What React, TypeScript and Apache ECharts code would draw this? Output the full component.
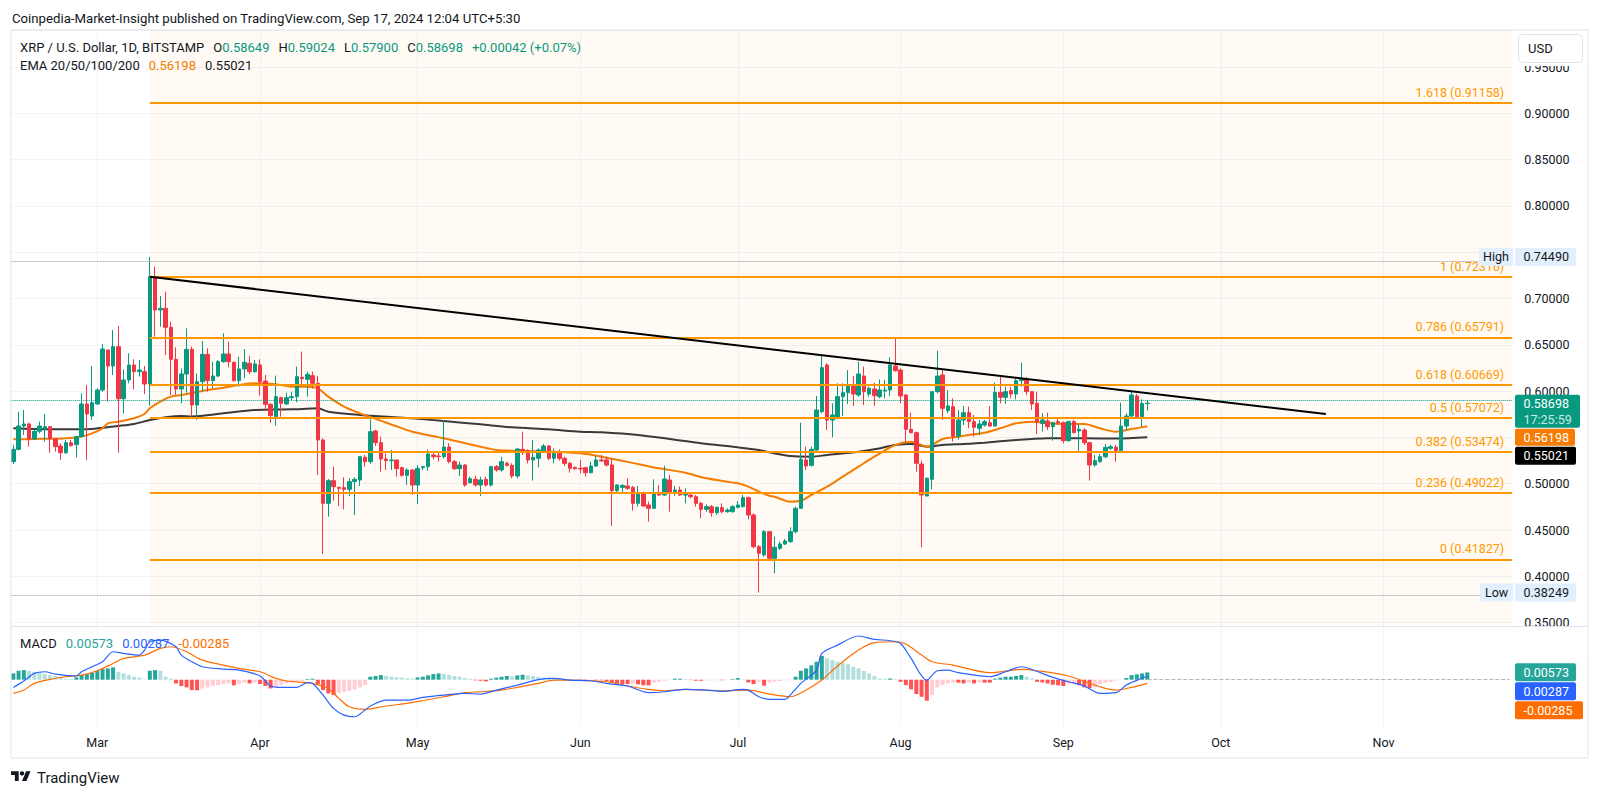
import React, { useEffect, useRef } from "react";
import * as echarts from "echarts";

const FONT = "Roboto, 'Noto Sans', sans-serif";
const TEXT = "#131722";
const GRID = "#f0f3fa";
const UP = "#089981";
const DOWN = "#f23645";
const FIB = "#ff9800";
const EMA_FAST = "#f57c00";
const EMA_SLOW = "#3a3a3a";

// day offsets relative to 2024-03-01
const START_DAY = -16;
const LAST_AXIS_DAY = 269;
const MONTHS = ["Jan", "Feb", "Mar", "Apr", "May", "Jun", "Jul", "Aug", "Sep", "Oct", "Nov", "Dec"];

const opens = [
  .5238,.5371,.5623,.5645,.5483,.5566,.5590,.5616,.5483,.5407,
  .5335,.5443,.5422,.5508,.5861,.5731,.5861,.6012,.6444,.6271,
  .6480,.5918,.6120,.6282,.6210,.6210,.6077,.7236,.6876,.6894,
  .6689,.6343,.6023,.6185,.6451,.5850,.6102,.6397,.6113,.6163,
  .6318,.6401,.6311,.6113,.6239,.6300,.6210,.6282,.6109,.5857,
  .5724,.5929,.5861,.5929,.5940,.6149,.6127,.6167,.6084,.5472,
  .4788,.5033,.4961,.4957,.4939,.5022,.5040,.5285,.5238,.5569,
  .5443,.5267,.5249,.5256,.5173,.5090,.5148,.4986,.5173,.5184,
  .5310,.5299,.5292,.5396,.5238,.5162,.5202,.5011,.5047,.4986,
  .5047,.4986,.5184,.5148,.5220,.5198,.5083,.5371,.5357,.5256,
  .5274,.5357,.5407,.5274,.5328,.5274,.5220,.5177,.5166,.5173,
  .5119,.5191,.5256,.5256,.5202,.4925,.4960,.4975,.4961,.4788,
  .4896,.4770,.4734,.4896,.4878,.5040,.4914,.4932,.4878,.4878,
  .4860,.4788,.4723,.4752,.4687,.4741,.4698,.4698,.4745,.4752,
  .4849,.4662,.4320,.4230,.4482,.4194,.4302,.4349,.4374,.4482,
  .4734,.5256,.5198,.5364,.5778,.6282,.5688,.5724,.5940,.5983,
  .6066,.5958,.6163,.5969,.6023,.5940,.6001,.6012,.6271,.6228,
  .5958,.5587,.5551,.5213,.4867,.5047,.5994,.6174,.5789,.5832,
  .5515,.5688,.5767,.5670,.5598,.5634,.5659,.5623,.5987,.5933,
  .6005,.5969,.6113,.6127,.5994,.5868,.5652,.5677,.5616,.5670,
  .5659,.5465,.5670,.5569,.5580,.5443,.5202,.5238,.5292,.5382,
  .5393,.5357,.5623,.5731,.5947,.5724,.58649,
];
const highs = [
  .5418,.5778,.5796,.5659,.5598,.5670,.5753,.5623,.5490,.5436,
  .5472,.5472,.5515,.5976,.6066,.6271,.6030,.6509,.6444,.6660,
  .6703,.6235,.6408,.6343,.6336,.6271,.7449,.7344,.7027,.7074,
  .6750,.6473,.6246,.6678,.6480,.6192,.6541,.6462,.6318,.6336,
  .6624,.6534,.6318,.6372,.6455,.6379,.6336,.6343,.6174,.5868,
  .6167,.5940,.5983,.5994,.6264,.6426,.6210,.6210,.6163,.5490,
  .5051,.5184,.4968,.5069,.5058,.5069,.5299,.5310,.5695,.5580,
  .5508,.5328,.5364,.5256,.5184,.5166,.5155,.5202,.5191,.5371,
  .5328,.5342,.5688,.5436,.5256,.5238,.5213,.5076,.5087,.5076,
  .5076,.5195,.5202,.5292,.5238,.5220,.5382,.5562,.5371,.5472,
  .5382,.5429,.5418,.5382,.5371,.5292,.5238,.5184,.5256,.5184,
  .5238,.5299,.5310,.5292,.5274,.4993,.4993,.5058,.4975,.4975,
  .4914,.4806,.5047,.4986,.5195,.5094,.4975,.4968,.4950,.4903,
  .4878,.4806,.4777,.4770,.4752,.4788,.4734,.4770,.4813,.4878,
  .4860,.4680,.4338,.4500,.4482,.4428,.4374,.4403,.4529,.4752,
  .5659,.5400,.5400,.5947,.6379,.6300,.5868,.6084,.6084,.6228,
  .6163,.6318,.6264,.6048,.6091,.6127,.6120,.6365,.6581,.6246,
  .5969,.5767,.5562,.5249,.5069,.5994,.6437,.6228,.6012,.5922,
  .5796,.5839,.5832,.5742,.5688,.5688,.5839,.6091,.6156,.6048,
  .6048,.6138,.6307,.6149,.5994,.5994,.5760,.5767,.5670,.5717,
  .5670,.5681,.5688,.5645,.5598,.5454,.5310,.5321,.5429,.5418,
  .5418,.5875,.5760,.5994,.5969,.5911,.59024,
];
const lows = [
  .5213,.5360,.5526,.5400,.5475,.5544,.5454,.5335,.5346,.5256,
  .5321,.5400,.5285,.5501,.5256,.5688,.5850,.5994,.5886,.6174,
  .5335,.5760,.6084,.6019,.6156,.5969,.5843,.6588,.6696,.6390,
  .5958,.5958,.5868,.5983,.5724,.5688,.5994,.5994,.6030,.6149,
  .6307,.6257,.6102,.6048,.6138,.6185,.6199,.5951,.5796,.5659,
  .5627,.5724,.5850,.5904,.5879,.6048,.5940,.6030,.5094,.4241,
  .4644,.4817,.4759,.4723,.4867,.4662,.4975,.5184,.5213,.5407,
  .5130,.5148,.5148,.5076,.5076,.4986,.4878,.4781,.5148,.5141,
  .5263,.5238,.5274,.5220,.5148,.5083,.4968,.5004,.4968,.4867,
  .4968,.4968,.5130,.5130,.5184,.5058,.5058,.5310,.5220,.5033,
  .5177,.5346,.5256,.5220,.5249,.5191,.5119,.5148,.5112,.5076,
  .5112,.5184,.5238,.5184,.4543,.4907,.4907,.4932,.4709,.4752,
  .4752,.4590,.4734,.4867,.4867,.4698,.4867,.4867,.4788,.4842,
  .4752,.4626,.4698,.4644,.4662,.4680,.4687,.4687,.4734,.4745,
  .4615,.4302,.3825,.4212,.4183,.4032,.4284,.4338,.4363,.4464,
  .4734,.5148,.5184,.5357,.5760,.5580,.5501,.5706,.5731,.5861,
  .5839,.5940,.5850,.5940,.5839,.5922,.5922,.5947,.6210,.5868,
  .5443,.5544,.5130,.4313,.4867,.4939,.5976,.5688,.5760,.5454,
  .5479,.5634,.5598,.5508,.5526,.5616,.5616,.5616,.5868,.5861,
  .5922,.5911,.6048,.5958,.5796,.5537,.5562,.5580,.5465,.5634,
  .5436,.5454,.5544,.5346,.5418,.5033,.5184,.5227,.5274,.5364,
  .5238,.5357,.5580,.5724,.5706,.5616,.57900,
];
const closes = [
  .5371,.5623,.5645,.5483,.5566,.5623,.5616,.5490,.5400,.5335,
  .5443,.5411,.5508,.5861,.5753,.5875,.6012,.6455,.6271,.6480,
  .5918,.6120,.6282,.6210,.6228,.6077,.7236,.6876,.6894,.6689,
  .6343,.6023,.6185,.6451,.5850,.6102,.6397,.6113,.6163,.6318,
  .6401,.6318,.6113,.6239,.6311,.6210,.6293,.6102,.5857,.5735,
  .5940,.5868,.5929,.5940,.6156,.6134,.6181,.6084,.5472,.4788,
  .5033,.4968,.4950,.4939,.5022,.5047,.5292,.5238,.5562,.5443,
  .5267,.5249,.5256,.5163,.5090,.5148,.4986,.5166,.5184,.5321,
  .5292,.5292,.5396,.5238,.5162,.5202,.4986,.5054,.4986,.5040,
  .4986,.5184,.5148,.5238,.5198,.5083,.5375,.5357,.5256,.5285,
  .5364,.5407,.5274,.5328,.5274,.5220,.5166,.5162,.5159,.5119,
  .5191,.5256,.5245,.5202,.4925,.4986,.4982,.4950,.4788,.4896,
  .4759,.4734,.4896,.4878,.5051,.4896,.4932,.4878,.4889,.4860,
  .4788,.4723,.4752,.4687,.4745,.4698,.4716,.4752,.4770,.4849,
  .4662,.4320,.4248,.4482,.4194,.4313,.4349,.4381,.4482,.4734,
  .5263,.5191,.5371,.5796,.6253,.5688,.5742,.5940,.5983,.6066,
  .5969,.6185,.5994,.6030,.5951,.6012,.6012,.6282,.6221,.5947,
  .5587,.5551,.5220,.4878,.5058,.5994,.6163,.5814,.5839,.5515,
  .5688,.5767,.5670,.5609,.5645,.5670,.5623,.5987,.5933,.5994,
  .5969,.6113,.6138,.5994,.5861,.5670,.5688,.5616,.5659,.5659,
  .5465,.5670,.5551,.5587,.5443,.5202,.5249,.5292,.5393,.5400,
  .5357,.5623,.5731,.5958,.5724,.58656,.58698,
];

const ema50Days = [-16,-12,-6,-3,-1,1,2,4,7,9,10,12,14,16,18,21,24,27,30,34,37,40,42,44,47,50,53,56,60,66,73,76,79,86,92,96,103,107,112,116,122,124,126,128,129,132,134,136,139,142,145,148,152,155,158,161,164,166,169,172,175,178,181,185,188,191,194,197,200];
const ema50Vals = [.5479,.5483,.5490,.5510,.5544,.5598,.5652,.5670,.5706,.5753,.5814,.5886,.5940,.5958,.5980,.6012,.6037,.6066,.6084,.6075,.6048,.6048,.6030,.5940,.5832,.5760,.5700,.5640,.5562,.5490,.5400,.5364,.5357,.5346,.5328,.5292,.5213,.5166,.5119,.5058,.5004,.4968,.4914,.4870,.4860,.4806,.4815,.4878,.4968,.5076,.5184,.5292,.5418,.5454,.5400,.5483,.5508,.5526,.5551,.5598,.5652,.5670,.5652,.5645,.5645,.5598,.5562,.5590,.56198];
const ema200Days = [-16,-9,-3,0,4,7,10,13,16,18,24,30,37,42,44,50,56,60,66,73,79,86,92,96,103,109,115,122,126,128,132,136,139,145,148,152,155,158,161,165,169,175,178,181,188,194,200];
const ema200Vals = [.5598,.5587,.5587,.5598,.5623,.5645,.5688,.5717,.5731,.5727,.5760,.5796,.5803,.5814,.5778,.5742,.5720,.5706,.5677,.5641,.5609,.5587,.5562,.5555,.5526,.5483,.5436,.5393,.5364,.5339,.5299,.5292,.5310,.5346,.5371,.5418,.5429,.5400,.5418,.5429,.5443,.5472,.5483,.5490,.5490,.5487,.55021];

const macdHist = [
  .0049,.0070,.0075,.0068,.0062,.0055,.0044,.0036,.0029,.0016,
  .0008,.0006,.0018,.0036,.0044,.0055,.0070,.0083,.0088,.0096,
  .0062,.0049,.0036,.0023,.0016,.0003,.0070,.0075,.0070,.0023,
  .0010,-.0029,-.0049,-.0060,-.0081,-.0083,-.0068,-.0060,-.0049,-.0042,
  -.0034,-.0029,-.0044,-.0034,-.0023,-.0029,-.0023,-.0034,-.0049,-.0068,
  -.0060,-.0042,-.0029,-.0023,-.0016,-.0010,.0005,.0008,-.0034,-.0081,
  -.0107,-.0120,-.0101,-.0094,-.0086,-.0075,-.0060,-.0042,.0023,.0029,
  .0036,.0029,.0023,.0018,.0016,.0010,.0008,.0018,.0023,.0034,
  .0044,.0049,.0044,.0036,.0029,.0023,.0013,.0008,-.0005,-.0008,
  -.0013,.0008,.0016,.0023,.0029,.0026,.0034,.0039,.0034,.0029,
  .0023,.0018,.0016,.0010,.0008,.0005,.0003,.0002,-.0002,-.0003,
  -.0002,-.0003,-.0004,-.0010,-.0023,-.0029,-.0034,-.0034,-.0029,-.0036,
  -.0044,-.0044,-.0023,-.0016,-.0008,-.0003,.0008,.0008,.0005,-.0003,
  -.0008,-.0008,-.0006,-.0005,-.0004,-.0004,-.0003,.0005,.0013,.0003,
  -.0021,-.0034,-.0016,-.0047,-.0021,-.0016,-.0010,-.0005,-.0003,.0023,
  .0070,.0088,.0112,.0140,.0185,.0166,.0153,.0140,.0133,.0122,
  .0101,.0088,.0068,.0049,.0029,.0010,.0008,.0009,.0005,-.0016,
  -.0042,-.0075,-.0112,-.0133,-.0164,-.0120,-.0060,-.0042,-.0029,-.0023,
  -.0023,-.0029,-.0023,-.0029,-.0023,-.0023,-.0023,.0008,.0016,.0023,
  .0023,.0029,.0036,.0023,.0010,-.0016,-.0021,-.0029,-.0039,-.0044,
  -.0049,-.0034,-.0029,-.0042,-.0060,-.0065,-.0060,-.0034,-.0023,-.0018,
  -.0008,-.0003,.0013,.0036,.0042,.0049,.00573,
];
const macdDays = [-16,-14,-12,-10,-8,-4,-3,-1,1,3,5,8,9,10,12,15,16,18,20,24,27,31,33,35,38,40,41,43,45,47,49,51,52,55,59,62,66,70,73,76,80,84,87,90,94,97,101,105,108,112,116,119,123,124,126,128,131,132,134,137,138,141,145,148,151,153,155,158,160,162,164,170,173,176,178,182,185,188,191,194,196,198,200];
const macdVals = [-.0060,-.0010,.0049,.0062,.0044,.0029,.0062,.0101,.0140,.0218,.0205,.0192,.0231,.0296,.0309,.0257,.0192,.0140,.0101,.0083,.0075,.0029,-.0049,-.0060,-.0060,-.0023,-.0029,-.0120,-.0224,-.0276,-.0289,-.0237,-.0205,-.0159,-.0159,-.0138,-.0120,-.0107,-.0112,-.0081,-.0042,.0000,.0010,-.0003,-.0008,-.0029,-.0049,-.0101,-.0094,-.0075,-.0081,-.0091,-.0075,-.0081,-.0133,-.0153,-.0153,-.0120,-.0029,.0075,.0205,.0270,.0341,.0315,.0304,.0283,.0166,-.0003,.0070,.0075,.0055,.0023,.0062,.0101,.0080,.0018,-.0016,-.0049,-.0107,-.0101,-.0042,-.0005,.00287];
const signalDays = [-16,-14,-12,-9,-6,-3,0,3,5,9,12,14,17,20,24,27,31,34,36,40,41,44,46,48,51,55,59,62,66,70,73,77,80,84,87,90,97,101,105,108,112,119,124,128,132,135,138,141,145,148,152,154,157,159,163,170,176,179,185,191,194,197,200];
const signalVals = [-.0107,-.0080,-.0029,.0003,.0023,.0036,.0070,.0127,.0166,.0192,.0244,.0257,.0218,.0153,.0114,.0088,.0062,.0010,-.0010,-.0023,-.0029,-.0068,-.0146,-.0211,-.0231,-.0205,-.0185,-.0164,-.0133,-.0101,-.0094,-.0081,-.0060,-.0029,-.0003,-.0003,-.0016,-.0049,-.0075,-.0086,-.0075,-.0086,-.0081,-.0112,-.0133,-.0081,-.0003,.0107,.0231,.0289,.0296,.0278,.0192,.0140,.0114,.0055,.0080,.0070,.0029,-.0055,-.0081,-.0060,-.00285];

const fibLevels = ["0", "0.236", "0.382", "0.5", "0.618", "0.786", "1", "1.618"];
const fibPrices = [0.41827, 0.49022, 0.53474, 0.57072, 0.60669, 0.65791, 0.72316, 0.91158];
const FIB_START_DAY = 10;
const trendDays = [10, 234];
const trendPrices = [0.7235, 0.5753];
const HIGH_PRICE = 0.7449;
const LOW_PRICE = 0.38249;

function dayLabel(d: number) {
  const dt = new Date(2024, 2, 1 + d);
  return `${dt.getFullYear()}-${String(dt.getMonth() + 1).padStart(2, "0")}-${String(dt.getDate()).padStart(2, "0")}`;
}
const categories = Array.from({ length: LAST_AXIS_DAY - START_DAY + 1 }, (_, i) => dayLabel(START_DAY + i));
const isMonthStart = (_i: number, v: string) => typeof v === "string" && v.endsWith("-01");
const monthName = (v: string) => MONTHS[parseInt(v.slice(5, 7), 10) - 1];

const histColors = macdHist.map((v, i) => {
  const p = i > 0 ? macdHist[i - 1] : v;
  if (v >= 0) return v >= p ? "#26a69a" : "#b2dfdb";
  return v <= p ? "#ff5252" : "#ffcdd2";
});

export default function App() {
  const ref = useRef<HTMLDivElement>(null);
  useEffect(() => {
    if (!ref.current) return;
    const chart = echarts.init(ref.current, null, { renderer: "svg" });
    const n = closes.length;
    const lastClose = closes[n - 1];
    const axisMaxDay = LAST_AXIS_DAY + 0.5;
    const option: any = {
      animation: false,
      backgroundColor: "#ffffff",
      textStyle: { fontFamily: FONT },
      grid: [
        { left: 10.7, top: 30, width: 1501.5, height: 596 },
        { left: 10.7, top: 626, width: 1501.5, height: 101 },
      ],
      xAxis: [
        {
          type: "category", gridIndex: 0, data: categories, boundaryGap: true,
          axisLine: { show: false }, axisTick: { show: false }, axisLabel: { show: false },
          splitLine: { show: true, interval: isMonthStart, alignWithLabel: true, lineStyle: { color: GRID, width: 1 } },
        },
        { type: "value", gridIndex: 0, min: START_DAY - 0.5, max: axisMaxDay, show: false },
        {
          type: "category", gridIndex: 1, data: categories, boundaryGap: true,
          axisLine: { show: false }, axisTick: { show: false },
          axisLabel: { show: true, interval: isMonthStart, formatter: monthName, color: TEXT, fontSize: 12.5, margin: 9, fontFamily: FONT },
          splitLine: { show: true, interval: isMonthStart, alignWithLabel: true, lineStyle: { color: GRID, width: 1 } },
        },
        { type: "value", gridIndex: 1, min: START_DAY - 0.5, max: axisMaxDay, show: false },
      ],
      yAxis: [
        {
          type: "value", gridIndex: 0, position: "right", min: 0.34633, max: 0.98996,
          splitNumber: 13, minInterval: 0.05, maxInterval: 0.05,
          axisLine: { show: false }, axisTick: { show: false },
          axisLabel: { formatter: (v: number) => v.toFixed(5), color: TEXT, fontSize: 12.5, margin: 12, showMinLabel: false, showMaxLabel: false, fontFamily: FONT },
          splitLine: { show: true, lineStyle: { color: GRID, width: 1 } },
        },
        {
          type: "value", gridIndex: 1, position: "right", min: -0.0369, max: 0.0419,
          axisLine: { show: false }, axisTick: { show: false }, axisLabel: { show: false }, splitLine: { show: false },
        },
      ],
      series: [
        {
          type: "line", name: "fib", xAxisIndex: 1, yAxisIndex: 0, silent: true, z: 1,
          data: [[FIB_START_DAY, fibPrices[0]]], symbol: "none", lineStyle: { opacity: 0 },
          markArea: {
            silent: true, itemStyle: { color: "rgba(255,152,0,0.045)" },
            data: [[{ xAxis: FIB_START_DAY }, { xAxis: axisMaxDay }]],
          },
          markLine: {
            silent: true, symbol: ["none", "none"], animation: false,
            lineStyle: { color: FIB, width: 2, type: "solid" },
            label: { show: true, position: "insideEndTop", color: FIB, fontSize: 12.5, fontFamily: FONT, distance: [8, 4] },
            data: fibPrices.map((p, i) => [
              { coord: [FIB_START_DAY, p], label: { formatter: `${fibLevels[i]} (${p.toFixed(5)})` } },
              { coord: [axisMaxDay, p] },
            ]),
          },
        },
        {
          type: "line", name: "EMA200", xAxisIndex: 1, yAxisIndex: 0, silent: true, z: 3,
          data: ema200Days.map((d, i) => [d, ema200Vals[i]]), smooth: 0.3, symbol: "none",
          lineStyle: { color: EMA_SLOW, width: 2 },
        },
        {
          type: "line", name: "EMA50", xAxisIndex: 1, yAxisIndex: 0, silent: true, z: 3,
          data: ema50Days.map((d, i) => [d, ema50Vals[i]]), smooth: 0.3, symbol: "none",
          lineStyle: { color: EMA_FAST, width: 2 },
        },
        {
          type: "candlestick", name: "XRPUSD", xAxisIndex: 0, yAxisIndex: 0, silent: true, z: 4,
          barWidth: 4,
          data: opens.map((o, i) => [o, closes[i], lows[i], highs[i]]),
          itemStyle: { color: UP, color0: DOWN, borderColor: UP, borderColor0: DOWN, borderWidth: 1 },
          markLine: {
            silent: true, symbol: ["none", "none"], animation: false, label: { show: false },
            lineStyle: { type: "dotted", width: 1, color: "#9598a1" },
            data: [
              { yAxis: HIGH_PRICE },
              { yAxis: LOW_PRICE },
              { yAxis: lastClose, lineStyle: { color: UP, type: "dotted", width: 1 } },
            ],
          },
        },
        {
          type: "line", name: "trend", xAxisIndex: 1, yAxisIndex: 0, silent: true, z: 5,
          data: trendDays.map((d, i) => [d, trendPrices[i]]), symbol: "none",
          lineStyle: { color: "#000000", width: 2 },
        },
        {
          type: "bar", name: "hist", xAxisIndex: 2, yAxisIndex: 1, silent: true, barWidth: 4,
          data: macdHist.map((v, i) => ({ value: v, itemStyle: { color: histColors[i] } })),
          markLine: {
            silent: true, symbol: ["none", "none"], animation: false, label: { show: false },
            lineStyle: { type: "dashed", width: 1, color: "#b2b5be" },
            data: [[{ coord: [categories[n - 1], 0] }, { coord: [categories[categories.length - 1], 0] }]],
          },
        },
        {
          type: "line", name: "signal", xAxisIndex: 3, yAxisIndex: 1, silent: true,
          data: signalDays.map((d, i) => [d, signalVals[i]]), smooth: 0.3, symbol: "none",
          lineStyle: { color: "#ff6d00", width: 1.2 },
        },
        {
          type: "line", name: "macd", xAxisIndex: 3, yAxisIndex: 1, silent: true,
          data: macdDays.map((d, i) => [d, macdVals[i]]), smooth: 0.3, symbol: "none",
          lineStyle: { color: "#2962ff", width: 1.2 },
        },
      ],
    };
    chart.setOption(option);

    const py = (v: number) => chart.convertToPixel({ yAxisIndex: 0 }, v) as unknown as number;
    const pm = (v: number) => chart.convertToPixel({ yAxisIndex: 1 }, v) as unknown as number;

    const g: any[] = [];
    const rect = (x: number, y: number, w: number, h: number, fill: string, extra: any = {}, z = 100) =>
      g.push({ type: "rect", z, silent: true, shape: { x, y, width: w, height: h, r: extra.r || 0 }, style: { fill, ...(extra.style || {}) } });
    const text = (x: number, y: number, t: string, fill: string, size = 12.5, extra: any = {}) =>
      g.push({ type: "text", z: 110, silent: true, x, y, style: { text: t, fill, fontSize: size, fontFamily: FONT, verticalAlign: "middle", align: "left", ...extra } });

    // frame and separators
    g.push({ type: "rect", z: 90, silent: true, shape: { x: 11, y: 30, width: 1577, height: 728 }, style: { fill: "none", stroke: "#e0e3eb", lineWidth: 1 } });
    rect(1513.5, 627, 74, 32, "#ffffff", {}, 95);
    rect(1513.5, 31, 74, 35, "#ffffff", {}, 95);
    g.push({ type: "line", z: 96, silent: true, shape: { x1: 11, y1: 626.5, x2: 1588, y2: 626.5 }, style: { stroke: "#e0e3eb", lineWidth: 1 } });

    // header
    text(12, 18.5, "Coinpedia-Market-Insight published on TradingView.com, Sep 17, 2024 12:04 UTC+5:30", TEXT, 13.2);
    const prevClose = closes[n - 2];
    const chg = lastClose - prevClose;
    const pct = (chg / prevClose) * 100;
    const sign = chg >= 0 ? "+" : "-";
    const FS = 13;
    const baseRich = {
      t: { fill: TEXT, color: TEXT, fontSize: FS, fontFamily: FONT },
      v: { fill: UP, color: UP, fontSize: FS, fontFamily: FONT },
      o: { fill: EMA_FAST, color: EMA_FAST, fontSize: FS, fontFamily: FONT },
      s: { width: 9, fontSize: FS },
    };
    g.push({
      type: "text", z: 110, silent: true, x: 20, y: 47.7,
      style: {
        text: `{t|XRP / U.S. Dollar, 1D, BITSTAMP}{s| }{t|O}{v|${opens[n - 1].toFixed(5)}}{s| }{t|H}{v|${highs[n - 1].toFixed(5)}}{s| }{t|L}{v|${lows[n - 1].toFixed(5)}}{s| }{t|C}{v|${lastClose.toFixed(5)}}{s| }{v|${sign}${Math.abs(chg).toFixed(5)} (${sign}${Math.abs(pct).toFixed(2)}%)}`,
        rich: baseRich, verticalAlign: "middle", fontFamily: FONT, fontSize: FS,
      },
    });
    g.push({
      type: "text", z: 110, silent: true, x: 20, y: 65.3,
      style: {
        text: `{t|EMA 20/50/100/200}{s| }{o|${ema50Vals[ema50Vals.length - 1].toFixed(5)}}{s| }{t|${ema200Vals[ema200Vals.length - 1].toFixed(5)}}`,
        rich: baseRich, verticalAlign: "middle", fontFamily: FONT, fontSize: FS,
      },
    });
    const hLast = macdHist[macdHist.length - 1];
    const mLast = macdVals[macdVals.length - 1];
    const sLast = signalVals[signalVals.length - 1];
    g.push({
      type: "text", z: 110, silent: true, x: 20, y: 643.3,
      style: {
        text: `{t|MACD}{s| }{g|${hLast.toFixed(5)}}{s| }{b|${mLast.toFixed(5)}}{s| }{r|${sLast.toFixed(5)}}`,
        rich: {
          ...baseRich,
          g: { fill: "#26a69a", color: "#26a69a", fontSize: FS, fontFamily: FONT },
          b: { fill: "#2962ff", color: "#2962ff", fontSize: FS, fontFamily: FONT },
          r: { fill: "#ff6d00", color: "#ff6d00", fontSize: FS, fontFamily: FONT },
        },
        verticalAlign: "middle", fontFamily: FONT, fontSize: FS,
      },
    });

    // USD button
    g.push({ type: "rect", z: 105, silent: true, shape: { x: 1518.5, y: 34.5, width: 64, height: 28, r: 4 }, style: { fill: "#ffffff", stroke: "#e0e3eb", lineWidth: 1 } });
    text(1528, 48.5, "USD", TEXT, 13);

    // price tags
    const TAG_X = 1515;
    const tagText = (y: number, t: string, fill = "#ffffff") => text(1523.5, y, t, fill, 12.5);
    const yClose = py(lastClose);
    let top = yClose - 8.5;
    rect(TAG_X, top, 65, 33, UP, { r: 2 });
    tagText(top + 8.5, lastClose.toFixed(5));
    tagText(top + 25, "17:25:59", "rgba(255,255,255,0.8)");
    let next = top + 34;
    const e50 = ema50Vals[ema50Vals.length - 1];
    top = Math.max(py(e50) - 8.5, next);
    rect(TAG_X, top, 60, 17, EMA_FAST, { r: 2 });
    tagText(top + 8.5, e50.toFixed(5));
    next = top + 18;
    const e200 = ema200Vals[ema200Vals.length - 1];
    top = Math.max(py(e200) - 9, next);
    rect(TAG_X, top, 61, 18, "#000000", { r: 2 });
    tagText(top + 9, e200.toFixed(5));

    // high / low tags
    const LBL_BG = "#e3effd";
    const hy = py(HIGH_PRICE);
    rect(1479, hy - 9, 34, 18, LBL_BG);
    text(1483, hy, "High", TEXT, 12.5);
    rect(TAG_X, hy - 9, 61, 18, LBL_BG);
    text(1523.5, hy, HIGH_PRICE.toFixed(5), TEXT, 12.5);
    const ly = py(LOW_PRICE);
    rect(1480, ly - 9, 33, 18, LBL_BG);
    text(1485, ly, "Low", TEXT, 12.5);
    rect(TAG_X, ly - 9, 61, 18, LBL_BG);
    text(1523.5, ly, LOW_PRICE.toFixed(5), TEXT, 12.5);

    // MACD tags
    const mtags = [
      { v: hLast, c: "#26a69a" },
      { v: mLast, c: "#2962ff" },
      { v: sLast, c: "#ff6d00" },
    ];
    let mNext = -Infinity;
    mtags.forEach((t) => {
      const label = t.v.toFixed(5);
      const tp = Math.max(pm(t.v) - 9, mNext);
      rect(TAG_X, tp, label.length > 7 ? 68 : 61, 18, t.c, { r: 2 });
      tagText(tp + 9, label);
      mNext = tp + 19;
    });

    // TradingView logo
    g.push({ type: "tvlogo", z: 110, silent: true, x: 11, y: 769, scaleX: 0.55, scaleY: 0.55, style: { fill: TEXT } });
    g.push({ type: "circle", z: 110, silent: true, shape: { cx: 11 + 20 * 0.55, cy: 769 + 8 * 0.55, r: 4 * 0.55 }, style: { fill: TEXT } });
    text(37, 778, "TradingView", TEXT, 15);

    chart.setOption({ graphic: g });
    return () => chart.dispose();
  }, []);
  return <div ref={ref} style={{ position: "absolute", left: 0, top: 0, width: 1600, height: 796 }} />;
}

echarts.graphic.registerShape(
  "tvlogo",
  echarts.graphic.extendPath("M14 22H7V11H0V4h14v18zM28 22h-8l7.5-18h8L28 22z", {}) as any
);
